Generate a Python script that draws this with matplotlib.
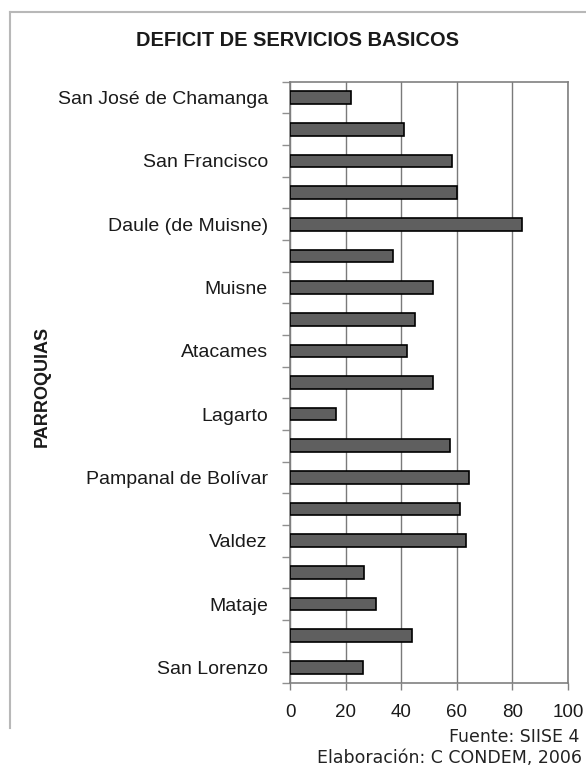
import matplotlib
matplotlib.use("Agg")
import matplotlib.pyplot as plt
import numpy as np
from matplotlib.lines import Line2D

# ---- data (top to bottom) ----
categories = ["San José de Chamanga", "", "San Francisco", "", "Daule (de Muisne)", "",
              "Muisne", "", "Atacames", "", "Lagarto", "", "Pampanal de Bolívar", "",
              "Valdez", "", "Mataje", "", "San Lorenzo"]
values = [21.8, 41.0, 58.2, 60.0, 83.5, 37.0, 51.6, 44.9, 42.1, 51.6,
          16.4, 57.4, 64.5, 61.0, 63.3, 26.5, 31.0, 43.8, 26.1]
x_ticks = [0, 20, 40, 60, 80, 100]

title = "DEFICIT DE SERVICIOS BASICOS"
ylabel = "PARROQUIAS"
source1 = "Fuente: SIISE 4"
source2 = "Elaboración: C CONDEM, 2006"

W, H = 586, 766
fig = plt.figure(figsize=(W / 100, H / 100), dpi=100)
fig.patch.set_facecolor("white")

# outer frame (left and top lines only)
fig.add_artist(Line2D([10 / W, 10 / W], [1 - 12 / H, 1 - 728 / H], color="#b8b8b8", lw=1.5,
                      transform=fig.transFigure))
fig.add_artist(Line2D([10 / W, 1.0], [1 - 12 / H, 1 - 12 / H], color="#b8b8b8", lw=1.5,
                      transform=fig.transFigure))

left, right = 290 / W, 568 / W
bottom, top = 1 - 683.3 / H, 1 - 81.7 / H
ax = fig.add_axes([left, bottom, right - left, top - bottom])

pos = np.arange(len(categories))
ax.barh(pos, values, height=0.4, color="#5f5f5f", edgecolor="black", linewidth=1.2, zorder=3)

ax.set_xlim(0, 100)
ax.set_ylim(len(categories) - 0.5, -0.5)
ax.set_xticks(x_ticks)
ax.set_xticklabels([str(t) for t in x_ticks], fontsize=13.5, family="Liberation Sans",
                   color="#1a1a1a")
ax.tick_params(axis="x", length=5, width=1, color="#808080", pad=10)

ax.set_yticks(pos)
ax.set_yticklabels(categories, fontsize=14, family="Liberation Sans", color="#1a1a1a")
ax.tick_params(axis="y", which="major", length=0, pad=16)
ax.set_yticks(np.arange(-0.5, len(categories), 1.0), minor=True)
ax.tick_params(axis="y", which="minor", length=6, width=1, color="#909090")

ax.grid(axis="x", color="#7a7a7a", linewidth=1.0, zorder=0)
for s in ax.spines.values():
    s.set_color("#808080")
    s.set_linewidth(1.2)

fig.text(298 / W, 1 - 41 / H, title, ha="center", va="center", fontsize=14.4,
         fontweight="bold", family="Liberation Sans", color="#1a1a1a")
fig.text(42 / W, 1 - 386 / H, ylabel, ha="center", va="center", rotation=90,
         fontsize=13, fontweight="bold", family="Liberation Sans", color="#1a1a1a")
fig.text(579 / W, 1 - 737 / H, source1, ha="right", va="center", fontsize=12.5,
         family="DejaVu Sans", color="#222222")
fig.text(582 / W, 1 - 758 / H, source2, ha="right", va="center", fontsize=12.5,
         family="DejaVu Sans", color="#222222")

fig.savefig("out.png", dpi=100, facecolor="white")
